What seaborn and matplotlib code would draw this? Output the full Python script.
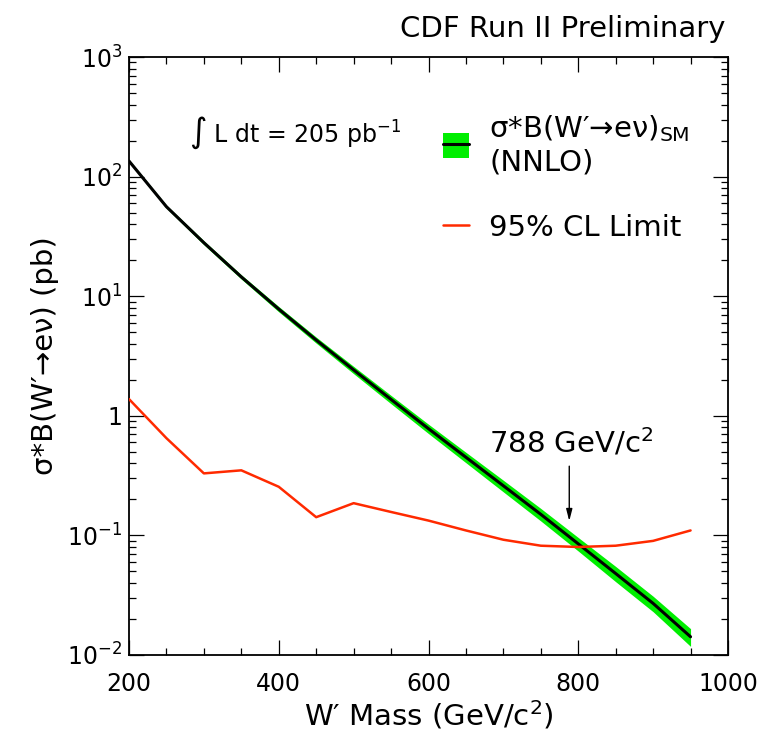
import numpy as np
import pandas as pd
import matplotlib
matplotlib.use("Agg")
import matplotlib.pyplot as plt
from matplotlib.patches import Patch
from matplotlib.lines import Line2D
from matplotlib.ticker import MultipleLocator, LogLocator, FixedLocator, FixedFormatter, NullFormatter
import seaborn as sns

# W' mass points (GeV/c^2)
mass = [200, 250, 300, 350, 400, 450, 500, 550, 600, 650, 700, 750, 800, 850, 900, 950]
# SM sigma*B (NNLO), pb, with band
sm_xsec = [135, 56, 28, 14.5, 7.8, 4.3, 2.42, 1.37, 0.78, 0.45, 0.26, 0.15, 0.085, 0.048, 0.027, 0.0142]
sm_hi = [139, 57.7, 29.1, 15.1, 8.2, 4.55, 2.59, 1.48, 0.85, 0.495, 0.289, 0.168, 0.096, 0.055, 0.031, 0.0166]
sm_lo = [131, 54.3, 26.9, 13.9, 7.4, 4.05, 2.25, 1.26, 0.71, 0.405, 0.231, 0.132, 0.074, 0.041, 0.023, 0.0118]
# 95% CL limit, pb
limit = [1.38, 0.65, 0.33, 0.35, 0.255, 0.142, 0.186, 0.157, 0.133, 0.110, 0.092, 0.082, 0.080, 0.082, 0.090, 0.110]

mass_limit = 788
ytick_vals = [1e-2, 1e-1, 1, 1e1, 1e2, 1e3]
ytick_labels = [r"$10^{-2}$", r"$10^{-1}$", "1", r"$10^{1}$", r"$10^{2}$", r"$10^{3}$"]

GREEN = "#00ee00"
RED = "#ff2a00"

sns.set_style("ticks")
plt.rcParams["font.family"] = ["DejaVu Sans"]
plt.rcParams["mathtext.fontset"] = "dejavusans"
plt.rcParams["mathtext.default"] = "regular"
plt.rcParams["text.color"] = "black"
plt.rcParams["axes.labelcolor"] = "black"
plt.rcParams["xtick.color"] = "black"
plt.rcParams["ytick.color"] = "black"

df = pd.DataFrame({"mass": mass, "sm": sm_xsec, "lo": sm_lo, "hi": sm_hi, "limit": limit})

fig = plt.figure(figsize=(7.67, 7.34), dpi=100)
ax = fig.add_axes([129 / 767, 1 - 655 / 734, (728 - 129) / 767, (655 - 57) / 734])

ax.fill_between(df["mass"], df["lo"], df["hi"], color=GREEN, lw=0, zorder=2)
sns.lineplot(data=df, x="mass", y="sm", ax=ax, color="black", lw=2.2, zorder=3)
sns.lineplot(data=df, x="mass", y="limit", ax=ax, color=RED, lw=1.8, zorder=4)

ax.set_yscale("log")
ax.set_xlim(200, 1000)
ax.set_ylim(1e-2, 1e3)

ax.xaxis.set_major_locator(MultipleLocator(200))
ax.xaxis.set_minor_locator(MultipleLocator(50))
ax.yaxis.set_major_locator(FixedLocator(ytick_vals))
ax.yaxis.set_major_formatter(FixedFormatter(ytick_labels))
ax.yaxis.set_minor_locator(LogLocator(base=10, subs=np.arange(2, 10), numticks=20))
ax.yaxis.set_minor_formatter(NullFormatter())

ax.tick_params(which="both", direction="in", top=True, right=True, width=0.9, color="black")
ax.tick_params(which="major", length=10.8)
ax.tick_params(which="minor", length=5)
ax.tick_params(axis="x", which="major", labelsize=17, pad=12, labelcolor="black")
ax.tick_params(axis="y", which="major", labelsize=17, pad=5, labelcolor="black")
for s in ax.spines.values():
    s.set_color("black")
    s.set_linewidth(1.3)

ax.set_xlabel("W\u2032 Mass (GeV/c$^{2}$)", fontsize=21, labelpad=2, color="black")
ax.set_ylabel("\u03c3*B(W\u2032\u2192e\u03bd) (pb)", fontsize=21, labelpad=6, color="black")

# arrow at the mass limit
ax.annotate("", xy=(mass_limit, 0.125), xytext=(mass_limit, 0.40),
            arrowprops=dict(arrowstyle="-|>,head_length=0.7,head_width=0.18", color="black", lw=1.0))
ax.text(681, 0.49, "788 GeV/c$^{2}$", fontsize=21, ha="left", va="baseline", color="black")

ax.text(0.1, 0.873, r"$\int$ L dt = 205 pb$^{-1}$", fontsize=17, ha="left", va="center",
        transform=ax.transAxes, color="black")

fig.text(726 / 767, 1 - 37 / 734, "CDF Run II Preliminary", fontsize=21, ha="right",
         va="baseline", color="black")

band_handle = (Patch(facecolor=GREEN, edgecolor="none"), Line2D([], [], color="black", lw=2.2))
lim_handle = Line2D([], [], color=RED, lw=1.8)
leg = ax.legend([band_handle, lim_handle],
                ["\u03c3*B(W\u2032\u2192e\u03bd)$_{SM}$\n(NNLO)", "95% CL Limit"],
                loc="upper left", bbox_to_anchor=(443 / 767, 1 - 113 / 734),
                bbox_transform=fig.transFigure, frameon=False, fontsize=21,
                handlelength=0.9, handleheight=0.95, handletextpad=0.68,
                labelspacing=1.28, borderpad=0, borderaxespad=0)
for t in leg.get_texts():
    t.set_color("black")

fig.savefig("out.png", dpi=100)
